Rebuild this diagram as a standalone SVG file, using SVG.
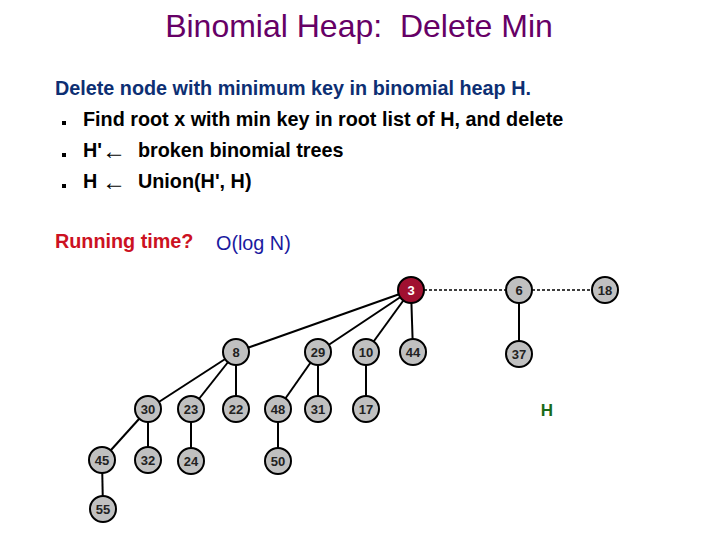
<svg xmlns="http://www.w3.org/2000/svg" width="720" height="540" viewBox="0 0 720 540">
<style>
text{font-family:"Liberation Sans",Arial,sans-serif}
.n circle{fill:#c0c0c0;stroke:#000;stroke-width:2}
.n text{font-size:13px;font-weight:bold;text-anchor:middle;fill:#222}
.e line{stroke:#000;stroke-width:2}
.d line{stroke:#000;stroke-width:1.5;stroke-dasharray:3,2}
.b{font-size:19.8px;font-weight:bold;fill:#000}
.a{font-size:24px;font-weight:normal}
</style>
<rect width="720" height="540" fill="#fff"/>
<text x="359" y="37" font-size="32" fill="#660066" text-anchor="middle" xml:space="preserve">Binomial Heap:  Delete Min</text>
<text x="55" y="95" font-size="19.8" font-weight="bold" fill="#0d2f73">Delete node with minimum key in binomial heap H.</text>
<rect x="62" y="121" width="4" height="4"/><rect x="62" y="153" width="4" height="4"/><rect x="62" y="184" width="4" height="4"/>
<text class="b" x="83" y="126">Find root x with min key in root list of H, and delete</text>
<text class="b" x="83" y="157">H'<tspan class="a" x="102" y="159">←</tspan><tspan x="138" y="157">broken binomial trees</tspan></text>
<text class="b" x="83" y="188">H<tspan class="a" x="102" y="190">←</tspan><tspan x="138" y="188">Union(H', H)</tspan></text>
<text x="55" y="248" font-size="19.8" font-weight="bold" fill="#cc1122">Running time?</text>
<text x="216" y="250" font-size="19.8" fill="#1a1aa0">O(log N)</text>
<g id="connectors">
<g class="d"><line x1="424" y1="290" x2="506" y2="290"/><line x1="532" y1="290" x2="592" y2="290"/></g>
<g class="e">
<line x1="411" y1="290" x2="236" y2="352"/><line x1="411" y1="290" x2="318" y2="352"/><line x1="411" y1="290" x2="366" y2="352"/><line x1="411" y1="290" x2="413" y2="352"/>
<line x1="519" y1="290" x2="519" y2="354"/>
<line x1="236" y1="352" x2="148" y2="409"/><line x1="236" y1="352" x2="191" y2="409"/><line x1="236" y1="352" x2="236" y2="409"/>
<line x1="318" y1="352" x2="278" y2="409"/><line x1="318" y1="352" x2="318" y2="409"/><line x1="366" y1="352" x2="366" y2="409"/>
<line x1="148" y1="409" x2="102" y2="460"/><line x1="148" y1="409" x2="148" y2="460"/><line x1="191" y1="409" x2="191" y2="461"/><line x1="278" y1="409" x2="278" y2="461"/>
<line x1="102" y1="460" x2="103" y2="509"/>
</g></g>
<g id="n3" class="n"><circle cx="411" cy="290" r="13" style="fill:#a01030"/><text x="411" y="295" style="fill:#fff">3</text></g>
<g id="n6" class="n"><circle cx="519" cy="290" r="13"/><text x="519" y="295">6</text></g>
<g id="n18" class="n"><circle cx="605" cy="290" r="13"/><text x="605" y="295">18</text></g>
<g id="n8" class="n"><circle cx="236" cy="352" r="13"/><text x="236" y="357">8</text></g>
<g id="n29" class="n"><circle cx="318" cy="352" r="13"/><text x="318" y="357">29</text></g>
<g id="n10" class="n"><circle cx="366" cy="352" r="13"/><text x="366" y="357">10</text></g>
<g id="n44" class="n"><circle cx="413" cy="352" r="13"/><text x="413" y="357">44</text></g>
<g id="n37" class="n"><circle cx="519" cy="354" r="13"/><text x="519" y="359">37</text></g>
<g id="n30" class="n"><circle cx="148" cy="409" r="13"/><text x="148" y="414">30</text></g>
<g id="n23" class="n"><circle cx="191" cy="409" r="13"/><text x="191" y="414">23</text></g>
<g id="n22" class="n"><circle cx="236" cy="409" r="13"/><text x="236" y="414">22</text></g>
<g id="n48" class="n"><circle cx="278" cy="409" r="13"/><text x="278" y="414">48</text></g>
<g id="n31" class="n"><circle cx="318" cy="409" r="13"/><text x="318" y="414">31</text></g>
<g id="n17" class="n"><circle cx="366" cy="409" r="13"/><text x="366" y="414">17</text></g>
<g id="n45" class="n"><circle cx="102" cy="460" r="13"/><text x="102" y="465">45</text></g>
<g id="n32" class="n"><circle cx="148" cy="460" r="13"/><text x="148" y="465">32</text></g>
<g id="n24" class="n"><circle cx="191" cy="461" r="13"/><text x="191" y="466">24</text></g>
<g id="n50" class="n"><circle cx="278" cy="461" r="13"/><text x="278" y="466">50</text></g>
<g id="n55" class="n"><circle cx="103" cy="509" r="13"/><text x="103" y="514">55</text></g>
<text x="547" y="416" font-size="17" font-weight="bold" fill="#1a6b1a" text-anchor="middle">H</text>
</svg>
